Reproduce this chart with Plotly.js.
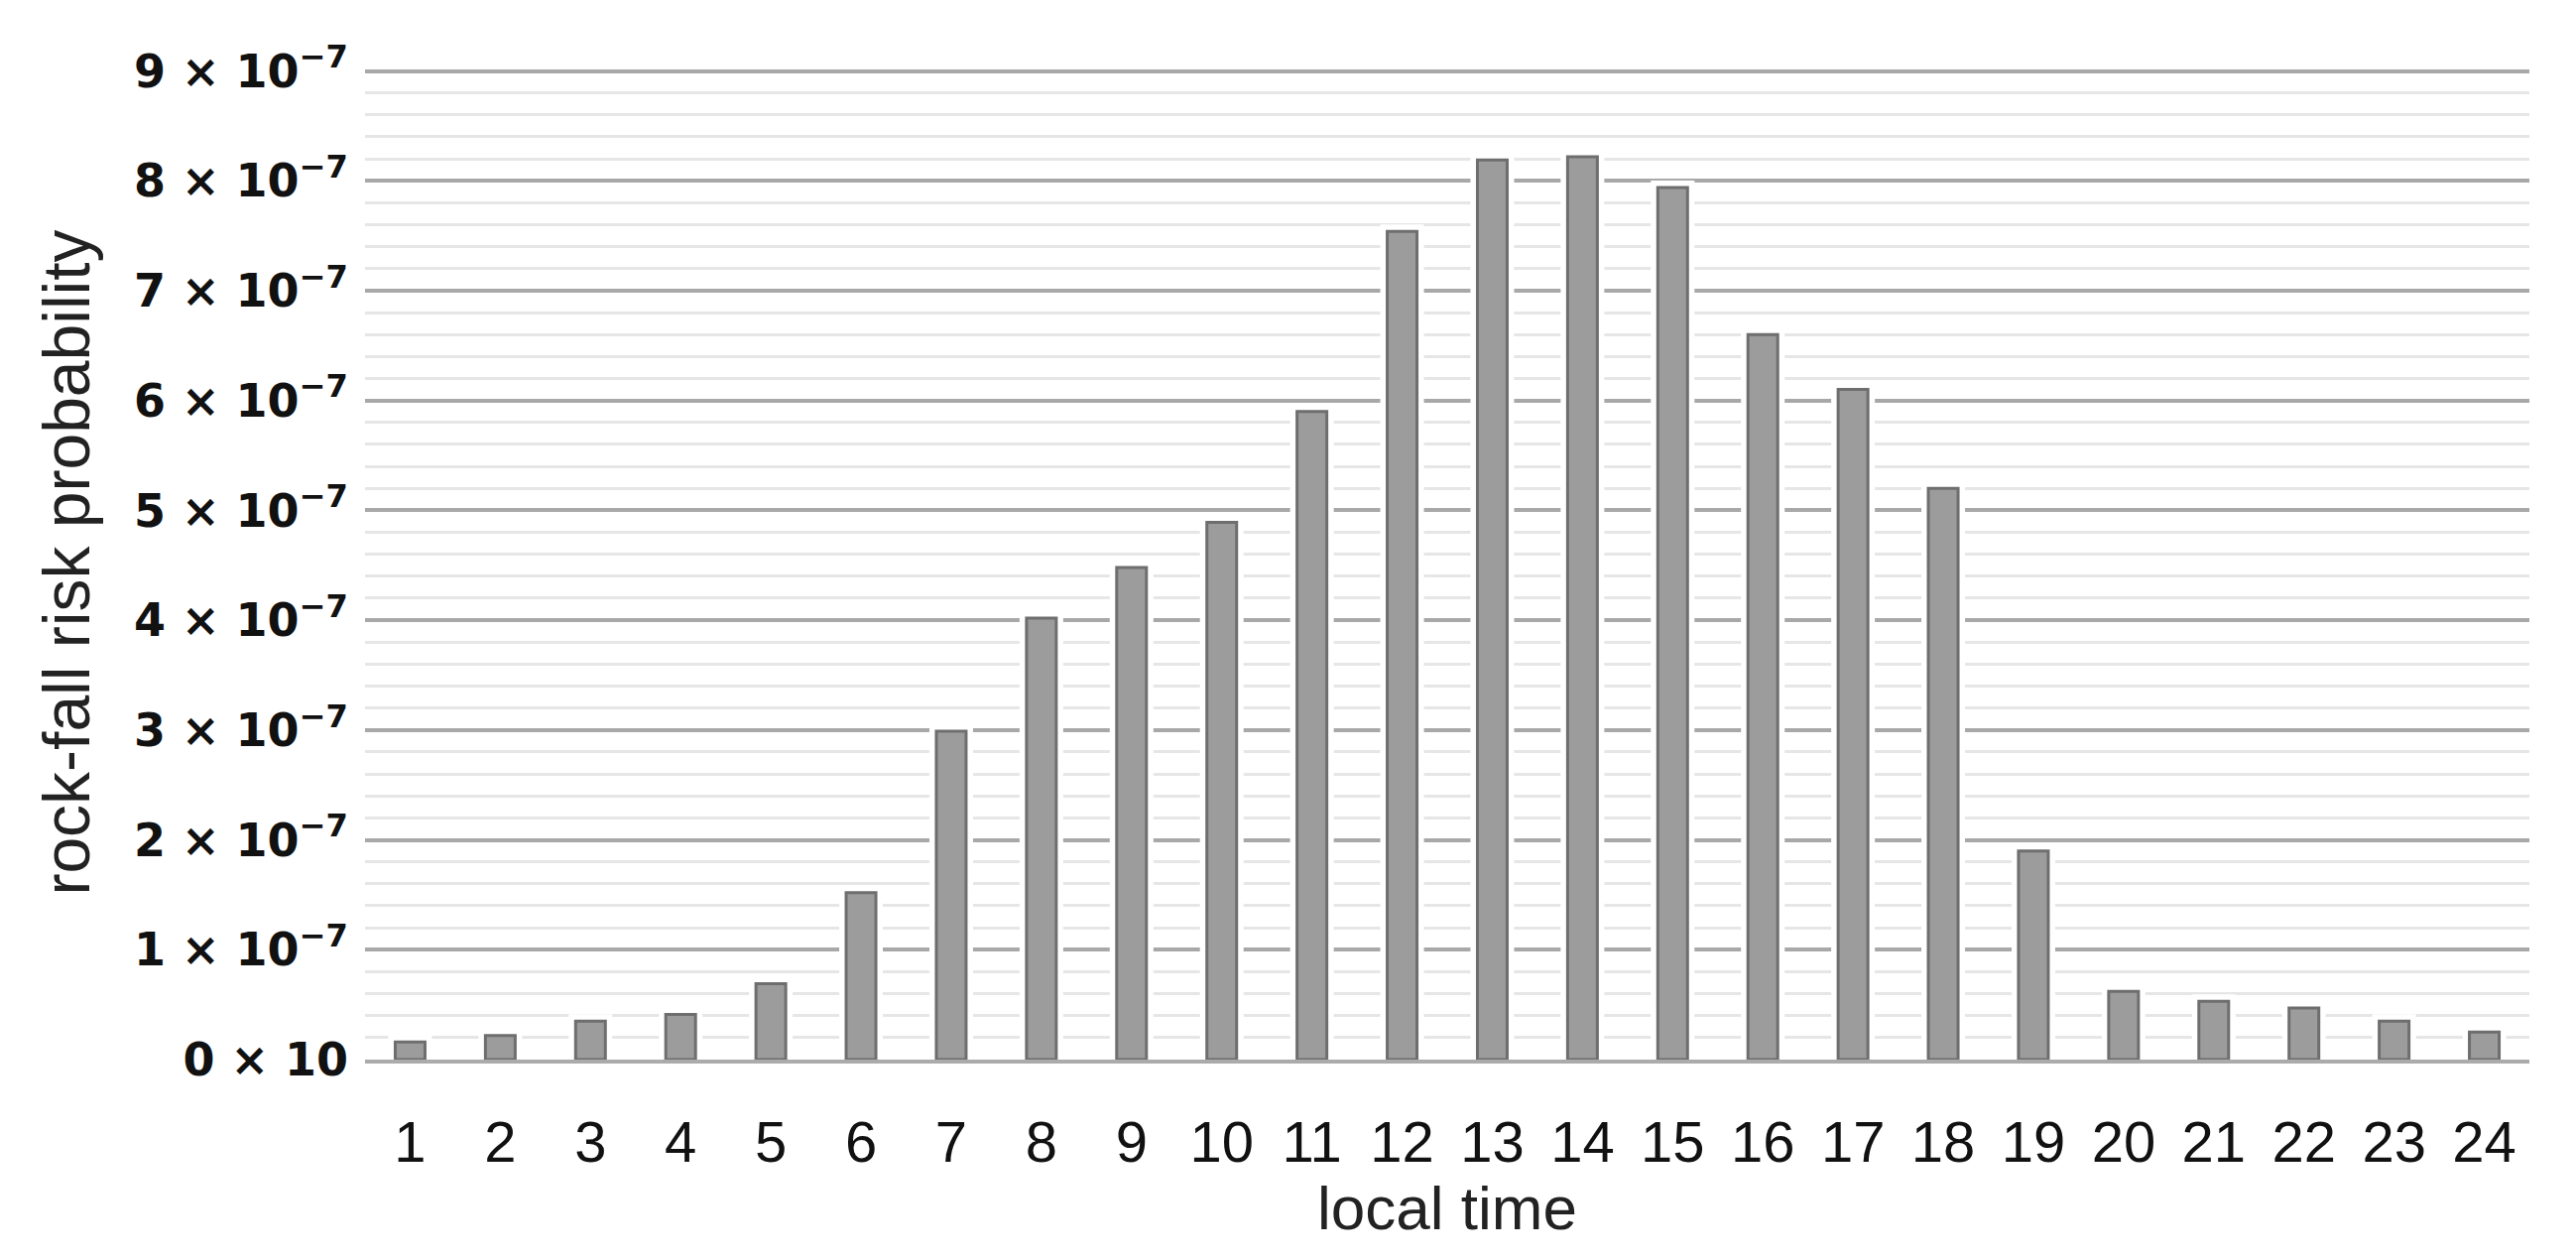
<!DOCTYPE html>
<html>
<head>
<meta charset="utf-8">
<script src="https://cdn.plot.ly/plotly-3.0.1.min.js"></script>
<style>
  html, body { margin: 0; padding: 0; background: #ffffff; }
  #chart { width: 2597px; height: 1270px; }
</style>
</head>
<body>
<div id="chart"></div>
<script>
// hour of day (categories)
const hours = ['1', '2', '3', '4', '5', '6', '7', '8', '9', '10', '11', '12',
  '13', '14', '15', '16', '17', '18', '19', '20', '21', '22', '23', '24'];

// rock-fall risk probability per hour
const riskProb = [1.6e-8, 2.2e-8, 3.5e-8, 4.1e-8, 6.9e-8, 1.52e-7, 2.99e-7, 4.02e-7,
  4.48e-7, 4.89e-7, 5.90e-7, 7.54e-7, 8.19e-7, 8.22e-7, 7.94e-7, 6.60e-7,
  6.10e-7, 5.20e-7, 1.90e-7, 6.2e-8, 5.3e-8, 4.7e-8, 3.5e-8, 2.5e-8];

// y tick positions and labels
const yTickVals = [0, 1e-7, 2e-7, 3e-7, 4e-7, 5e-7, 6e-7, 7e-7, 8e-7, 9e-7];
const yTickText = ['0 × 10', '1 × 10<sup>−7</sup>', '2 × 10<sup>−7</sup>', '3 × 10<sup>−7</sup>',
  '4 × 10<sup>−7</sup>', '5 × 10<sup>−7</sup>', '6 × 10<sup>−7</sup>', '7 × 10<sup>−7</sup>',
  '8 × 10<sup>−7</sup>', '9 × 10<sup>−7</sup>'].map(t => '<b>' + t + '</b>');

const narrow = '"Liberation Sans Narrow", "Liberation Sans", Arial, sans-serif';

const data = [
  // white halo behind each bar (breaks the gridlines like the original)
  {
    x: hours,
    y: riskProb,
    type: 'bar',
    hoverinfo: 'skip',
    showlegend: false,
    marker: { color: '#ffffff', line: { color: '#ffffff', width: 14 } }
  },
  {
    x: hours,
    y: riskProb,
    type: 'bar',
    name: 'risk',
    showlegend: false,
    marker: { color: '#9c9c9c', line: { color: '#6e6e6e', width: 3 } }
  }
];

const layout = {
  width: 2597,
  height: 1270,
  paper_bgcolor: '#ffffff',
  plot_bgcolor: '#ffffff',
  barmode: 'overlay',
  bargap: 0.67,
  showlegend: false,
  margin: { l: 368, r: 47, t: 66, b: 202 },
  xaxis: {
    type: 'category',
    showgrid: false,
    zeroline: false,
    showline: true,
    linecolor: '#ababab',
    linewidth: 4,
    layer: 'above traces',
    ticks: '',
    ticklabelstandoff: 29,
    tickfont: { family: narrow, size: 58, color: '#111111' },
    title: {
      text: 'local time',
      standoff: 8,
      font: { family: narrow, size: 62, color: '#222222' }
    }
  },
  yaxis: {
    // a hair above 9e-7 so the top gridline is drawn
    range: [0, 9.05e-7],
    tickmode: 'array',
    tickvals: yTickVals,
    ticktext: yTickText,
    ticks: '',
    ticklabelstandoff: 16,
    tickfont: { family: '"DejaVu Sans", Verdana, sans-serif', size: 46, color: '#111111' },
    showgrid: true,
    gridcolor: '#a8a8a8',
    gridwidth: 4,
    zeroline: false,
    showline: false,
    minor: {
      tickmode: 'linear',
      tick0: 0,
      dtick: 2e-8,
      showgrid: true,
      gridcolor: '#e6e6e6',
      gridwidth: 3
    },
    title: {
      text: 'rock-fall risk probability',
      standoff: 22,
      font: { family: '"Liberation Sans", Arial, sans-serif', size: 66, color: '#222222' }
    }
  }
};

Plotly.newPlot('chart', data, layout, { displayModeBar: false, staticPlot: true });
</script>
</body>
</html>
